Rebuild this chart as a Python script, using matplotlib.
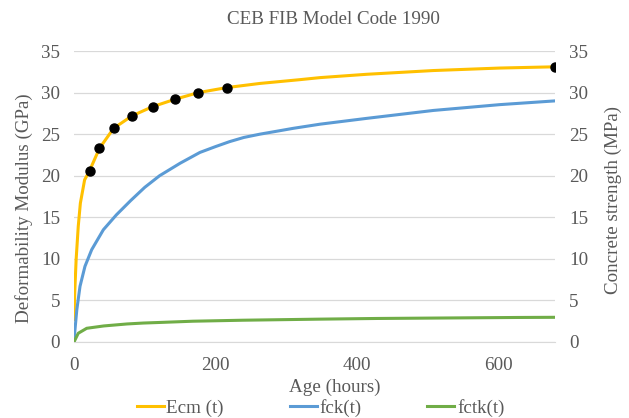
import matplotlib
matplotlib.use("Agg")
import matplotlib.pyplot as plt

# values
ecm_hours = [0, 1, 3, 6, 9, 15, 22, 36, 56, 82, 111, 143, 176, 216, 263, 319, 348, 414, 508, 602, 680]
ecm_gpa = [2.7, 5.9, 9.9, 13.9, 16.7, 19.5, 20.6, 23.3, 25.7, 27.2, 28.3, 29.2, 30.0, 30.6,
           31.1, 31.55, 31.8, 32.2, 32.65, 32.95, 33.1]

dot_hours = [22, 36, 56, 82, 111, 143, 176, 216, 680]
dot_gpa = [20.6, 23.3, 25.7, 27.2, 28.3, 29.2, 30.0, 30.6, 33.1]

fck_hours = [0, 4, 8.5, 15.5, 25, 41.5, 60, 80, 100, 121, 150, 178, 200, 220, 240, 263, 290,
             310, 348, 414, 508, 602, 680]
fck_mpa = [0.2, 3.9, 6.7, 9.1, 11.1, 13.5, 15.3, 17.0, 18.6, 20.0, 21.5, 22.8, 23.5, 24.1,
           24.6, 25.0, 25.4, 25.7, 26.2, 26.9, 27.85, 28.55, 29.0]

fctk_hours = [0, 6, 18, 42, 75, 98, 121, 168, 239, 348, 428, 626, 680]
fctk_mpa = [0.0, 1.05, 1.65, 1.93, 2.17, 2.28, 2.35, 2.5, 2.62, 2.75, 2.83, 2.95, 2.97]

x_ticks = [0, 200, 400, 600]
y_ticks = [0, 5, 10, 15, 20, 25, 30, 35]

text_color = "#595959"
grid_color = "#d9d9d9"
fs = 13.7
plt.rcParams["font.family"] = ["Liberation Serif", "DejaVu Serif"]
plt.rcParams["font.size"] = fs

W, H = 629, 418
fig = plt.figure(figsize=(W / 100, H / 100), dpi=100)
ax = fig.add_axes([74 / W, 1 - 342 / H, (555 - 74) / W, (342 - 51) / H])
ax2 = ax.twinx()

l1, = ax.plot(ecm_hours, ecm_gpa, color="#FFC000", lw=2.2, zorder=3)
ax.plot(dot_hours, dot_gpa, "o", color="black", ms=6.5, zorder=4)
l2, = ax2.plot(fck_hours, fck_mpa, color="#5B9BD5", lw=2.2)
l3, = ax2.plot(fctk_hours, fctk_mpa, color="#70AD47", lw=2.2)

for a in (ax, ax2):
    a.set_xlim(0, 680)
    a.set_ylim(0, 35)
    a.set_yticks(y_ticks)
    for s in a.spines.values():
        s.set_visible(False)
    a.tick_params(length=0, colors=text_color, labelsize=fs)

ax.set_xticks(x_ticks)
ax.grid(axis="y", color=grid_color, lw=0.9)
ax.set_axisbelow(True)
ax.spines["bottom"].set_visible(True)
ax.spines["bottom"].set_color(grid_color)
ax.tick_params(axis="x", pad=11)
ax.tick_params(axis="y", pad=10)
ax2.tick_params(axis="y", pad=10)

# titles placed where the reference has them
fig.text(333.5 / W, 1 - 20 / H, "CEB FIB Model Code 1990", color=text_color, fontsize=fs,
         ha="center", va="center")
fig.text(335 / W, 1 - 387 / H, "Age (hours)", color=text_color, fontsize=fs,
         ha="center", va="center")
fig.text(24 / W, 1 - 208 / H, "Deformability Modulus (GPa)", color=text_color, fontsize=fs,
         ha="center", va="center", rotation=90)
fig.text(613 / W, 1 - 199.5 / H, "Concrete strength (MPa)", color=text_color, fontsize=fs,
         ha="center", va="center", rotation=90)

fig.legend([l1, l2, l3], ["Ecm (t)", "fck(t)", "fctk(t)"], loc="center",
           bbox_to_anchor=(320.5 / W, 1 - 408 / H), ncol=3, frameon=False,
           handlelength=1.42, handletextpad=0.15, columnspacing=3.45,
           labelcolor=text_color, fontsize=fs, borderpad=0, borderaxespad=0)

fig.savefig("out.png", dpi=100)
